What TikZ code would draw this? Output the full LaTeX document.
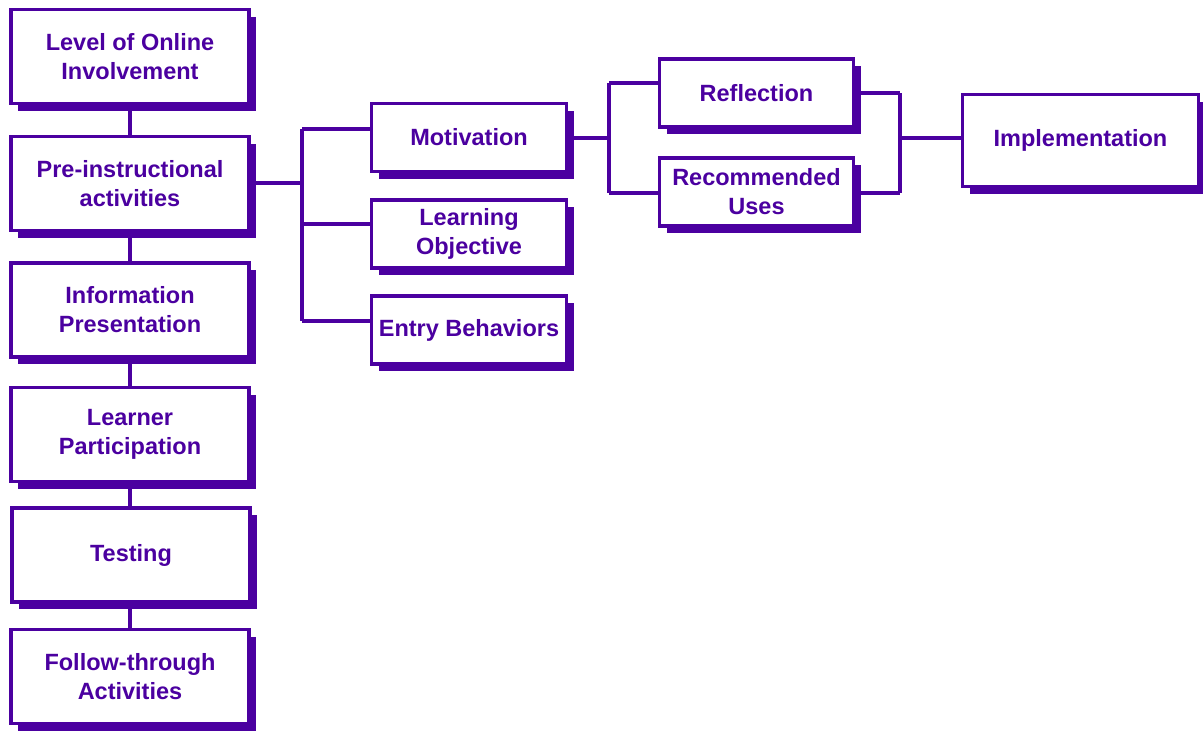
\documentclass[tikz,border=0pt]{standalone}
\usepackage{fontspec}
\setmainfont{Liberation Sans}
\usetikzlibrary{shadows}
\definecolor{pur}{RGB}{75,0,160}
\begin{document}
\begin{tikzpicture}[x=1pt,y=-1pt,
  box/.style={rectangle, draw=pur, line width=3.5pt, fill=white, inner sep=0pt,
    text=pur, align=center, font=\fontsize{23.5}{29}\selectfont\bfseries,
    drop shadow={shadow xshift=7pt, shadow yshift=-7pt, fill=pur, opacity=1}},
  bigbox/.style={box, minimum width=238pt, minimum height=94pt},
  smallbox/.style={box, minimum width=195pt, minimum height=68pt},
  conn/.style={draw=pur, line width=4pt}]
\useasboundingbox (0,0) rectangle (1203,732);

% junction points of the connectors
\coordinate (jL) at (302,183);
\coordinate (jT) at (302,129);
\coordinate (jM) at (302,224);
\coordinate (jB) at (302,321);
\coordinate (kL) at (609,138);
\coordinate (kT) at (609,83);
\coordinate (kB) at (609,193);
\coordinate (rT) at (900,93);
\coordinate (rB) at (900,193);
\coordinate (rM) at (900,138);

% left column
\node[bigbox] (lvl) at (130,56.5) {Level of Online\\Involvement};
\node[bigbox] (pre) at (130,183.5) {Pre-instructional\\activities};
\node[bigbox] (inf) at (130,310) {Information\\Presentation};
\node[bigbox] (lrn) at (130,434.5) {Learner\\Participation};
\node[bigbox] (tst) at (131,555) {Testing};
\node[bigbox] (fol) at (130,676.5) {Follow-through\\Activities};

\draw[conn] (lvl.south) -- (pre.north);
\draw[conn] (pre.south) -- (inf.north);
\draw[conn] (inf.south) -- (lrn.north);
\draw[conn] (lrn.south) -- (lrn.south |- tst.north);
\draw[conn] (tst.south -| fol.north) -- (fol.north);

% middle column
\node[smallbox] (mot) at (469,137.5) {Motivation};
\node[smallbox] (obj) at (469,234) {Learning\\Objective};
\node[smallbox] (ent) at (469,330) {Entry Behaviors};

\draw[conn] (pre.east |- jL) -- (jL);
\draw[conn] (jT) -- (jB);
\draw[conn] (jT) -- (mot.west |- jT);
\draw[conn] (jM) -- (obj.west |- jM);
\draw[conn] (jB) -- (ent.west |- jB);

% right column
\node[smallbox, minimum width=194pt] (ref) at (756.5,93) {Reflection};
\node[smallbox, minimum width=194pt] (rec) at (756.5,192) {Recommended\\Uses};
\node[box, minimum width=236pt, minimum height=92pt] (imp) at (1080.5,140.5) {Implementation};

\draw[conn] (mot.east |- kL) -- (kL);
\draw[conn] (kT) -- (kB);
\draw[conn] (kT) -- (ref.west |- kT);
\draw[conn] (kB) -- (rec.west |- kB);

\draw[conn] (ref.east |- rT) -- (rT);
\draw[conn] (rec.east |- rB) -- (rB);
\draw[conn] (rT) -- (rB);
\draw[conn] (rM) -- (imp.west |- rM);
\end{tikzpicture}
\end{document}
